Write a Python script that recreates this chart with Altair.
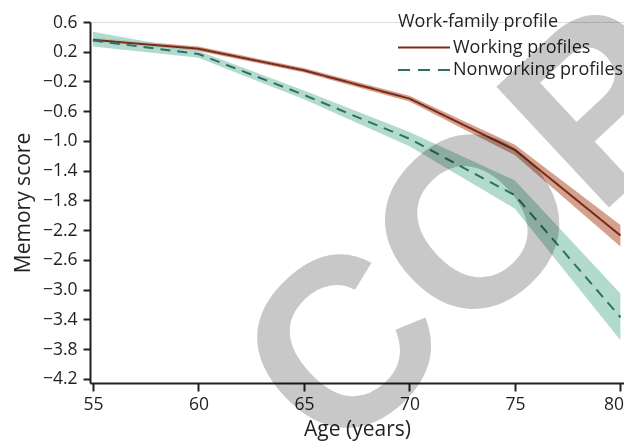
import altair as alt
import pandas as pd

# ---- data ----
ages = [55, 60, 65, 70, 75, 80]
working_mean = [0.36, 0.24, -0.05, -0.43, -1.12, -2.27]
working_lo = [0.33, 0.21, -0.08, -0.47, -1.19, -2.42]
working_hi = [0.39, 0.27, -0.02, -0.39, -1.05, -2.13]
nonworking_mean = [0.35, 0.17, -0.38, -0.97, -1.73, -3.37]
nonworking_lo = [0.27, 0.12, -0.44, -1.07, -1.91, -3.68]
nonworking_hi = [0.47, 0.21, -0.32, -0.88, -1.53, -3.05]

series = ["Working profiles", "Nonworking profiles"]
line_colors = ["#7a2a1c", "#2b6f6b"]
band_colors = ["#c98a70", "#9fd2c2"]
y_ticks = [0.6, 0.2, -0.2, -0.6, -1.0, -1.4, -1.8, -2.2, -2.6, -3.0, -3.4, -3.8, -4.2]
x_ticks = [55, 60, 65, 70, 75, 80]
legend_title = "Work-family profile"
watermark = "COPY"

rows = []
for i, a in enumerate(ages):
    rows.append({"age": a, "series": series[0], "mean": working_mean[i],
                 "lo": working_lo[i], "hi": working_hi[i]})
    rows.append({"age": a, "series": series[1], "mean": nonworking_mean[i],
                 "lo": nonworking_lo[i], "hi": nonworking_hi[i]})
df = pd.DataFrame(rows)

FONT = "Open Sans"
INK = "#231f20"

x_scale = alt.Scale(domain=[54.86, 80.17], nice=False, zero=False)
y_scale = alt.Scale(domain=[-4.254, 0.6], nice=False, zero=False)

x_axis = alt.Axis(values=x_ticks, title="Age (years)", grid=False, tickCount=20,
                  labelFontSize=17.5, titleFontSize=21, titleFontWeight="normal",
                  labelFont=FONT, titleFont=FONT, labelColor=INK, titleColor=INK,
                  domainColor=INK, tickColor=INK, domainWidth=2, tickWidth=2,
                  tickSize=8, labelPadding=4, titlePadding=6,
                  labelFlush=False, labelOverlap=False,
                  labelOffset={"condition": {"test": "datum.value >= 80", "value": -7},
                               "value": 0})
y_axis = alt.Axis(values=y_ticks, format=".1f", title="Memory score", grid=False,
                  tickCount=20,
                  labelFontSize=17.5, titleFontSize=21, titleFontWeight="normal",
                  labelFont=FONT, titleFont=FONT, labelColor=INK, titleColor=INK,
                  domainColor=INK, tickColor=INK, domainWidth=2, tickWidth=2,
                  tickSize=7, labelPadding=6, titlePadding=9,
                  labelOverlap=False, labelFlush=False)

x_enc = alt.X("age:Q", scale=x_scale, axis=x_axis)

color_scale_band = alt.Scale(domain=series, range=band_colors)
color_scale_line = alt.Scale(domain=series, range=line_colors)

bands = alt.Chart(df).mark_area(opacity=0.8).encode(
    x=x_enc,
    y=alt.Y("lo:Q", scale=y_scale, axis=y_axis),
    y2="hi:Q",
    fill=alt.Fill("series:N", scale=color_scale_band, legend=None),
)

lines = alt.Chart(df).mark_line(strokeWidth=2).encode(
    x=x_enc,
    y=alt.Y("mean:Q", scale=y_scale, axis=y_axis),
    stroke=alt.Stroke("series:N", scale=color_scale_line, legend=None),
    strokeDash=alt.StrokeDash("series:N",
                              scale=alt.Scale(domain=series, range=[[1, 0], [10, 7]]),
                              legend=None),
)

# ---- manual legend (top right) ----
leg_x = 308
leg_rows_y = [25.5, 48]
legend_layers = []
title_df = pd.DataFrame({"t": [legend_title]})
legend_layers.append(
    alt.Chart(title_df).mark_text(align="left", baseline="middle", font=FONT,
                                  fontSize=18, color=INK).encode(
        x=alt.value(leg_x), y=alt.value(0), text="t:N"))
for i, name in enumerate(series):
    sdf = pd.DataFrame({"t": [name]})
    legend_layers.append(
        alt.Chart(sdf).mark_rule(strokeWidth=2, color=line_colors[i],
                                 strokeDash=[1, 0] if i == 0 else [12, 8]).encode(
            x=alt.value(leg_x), x2=alt.value(leg_x + 52),
            y=alt.value(leg_rows_y[i])))
    legend_layers.append(
        alt.Chart(sdf).mark_text(align="left", baseline="middle", font=FONT,
                                 fontSize=18, color=INK).encode(
            x=alt.value(leg_x + 55), y=alt.value(leg_rows_y[i]), text="t:N"))

wm_df = pd.DataFrame({"t": [watermark]})
wm = alt.Chart(wm_df).mark_text(align="left", baseline="alphabetic",
                                font="Liberation Sans", fontWeight="bold",
                                fontSize=240, angle=317, color="#c8c8c8",
                                blend="multiply").encode(
    x=alt.value(244), y=alt.value(442), text="t:N")

chart = alt.layer(bands, lines, *legend_layers, wm).properties(
    width=534, height=361,
    autosize=alt.AutoSizeParams(type="none"),
    padding={"left": 82, "top": 14, "right": 0, "bottom": 64},
).configure_view(stroke=None).configure(background="white")

chart.save("out.html", embed_options={"renderer": "svg", "actions": False})
